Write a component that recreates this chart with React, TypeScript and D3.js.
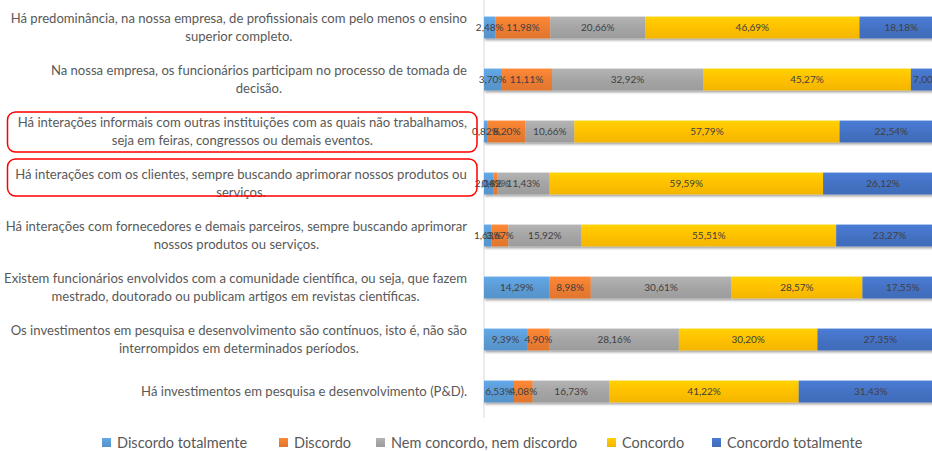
import React, { useMemo } from "react";
import * as d3 from "d3";

const categories = [
  "Há predominância, na nossa empresa, de profissionais com pelo menos o ensino\nsuperior completo.",
  "Na nossa empresa, os funcionários participam no processo de tomada de\ndecisão.",
  "Há interações informais com outras instituições com as quais não trabalhamos,\nseja em feiras, congressos ou demais eventos.",
  "Há interações com os clientes, sempre buscando aprimorar nossos produtos ou\nserviços.",
  "Há interações com fornecedores e demais parceiros, sempre buscando aprimorar\nnossos produtos ou serviços.",
  "Existem funcionários envolvidos com a comunidade científica, ou seja, que fazem\nmestrado, doutorado ou publicam artigos em revistas científicas.",
  "Os investimentos em pesquisa e desenvolvimento são contínuos, isto é, não são\ninterrompidos em determinados períodos.",
  "Há investimentos em pesquisa e desenvolvimento (P&D).",
];

const seriesNames = [
  "Discordo totalmente",
  "Discordo",
  "Nem concordo, nem discordo",
  "Concordo",
  "Concordo totalmente",
];

const discordoTotalmente = [2.48, 3.7, 0.82, 2.04, 1.63, 14.29, 9.39, 6.53];
const discordo = [11.98, 11.11, 8.2, 0.82, 3.67, 8.98, 4.9, 4.08];
const nemConcordo = [20.66, 32.92, 10.66, 11.43, 15.92, 30.61, 28.16, 16.73];
const concordo = [46.69, 45.27, 57.79, 59.59, 55.51, 28.57, 30.2, 41.22];
const concordoTotalmente = [18.18, 7.0, 22.54, 26.12, 23.27, 17.55, 27.35, 31.43];

const highlighted = [2, 3];

const colors = ["#5B9BD5", "#ED7D31", "#A5A5A5", "#FFC000", "#4472C4"];

const W = 932;
const H = 451;
const LABEL_SIZE = 13.1;
const LABEL_FONT = `${LABEL_SIZE}px Lato`;
const fontFamily = "Lato, 'Noto Sans', sans-serif";

function fmt(v: number) {
  return v.toFixed(2).replace(".", ",") + "%";
}

export default function App() {
  const seriesValues = [discordoTotalmente, discordo, nemConcordo, concordo, concordoTotalmente];
  const rows = categories.map((c, i) => {
    const r: any = { cat: c };
    seriesNames.forEach((s, j) => (r[s] = seriesValues[j][i]));
    return r;
  });
  const stack = d3.stack<any>().keys(seriesNames)(rows);

  const x = d3.scaleLinear().domain([0, 100]).range([484, 943]);
  const y = d3
    .scaleBand<string>()
    .domain(categories)
    .range([1.5, 417.5])
    .paddingInner(0.58)
    .paddingOuter(0.29);

  const measure = useMemo(() => {
    const c = document.createElement("canvas").getContext("2d")!;
    c.font = LABEL_FONT;
    return (s: string) => c.measureText(s).width;
  }, []);

  const labelRight = 467;

  return (
    <svg
      width={W}
      height={H}
      style={{ position: "absolute", left: 0, top: 0, display: "block", background: "#fff" }}
      fontFamily={fontFamily}
    >
      <defs>
        {colors.map((c, i) => (
          <linearGradient key={i} id={`g${i}`} x1="0" y1="0" x2="0" y2="1">
            <stop offset="0" stopColor={d3.color(c)!.brighter(0.25).formatHex()} />
            <stop offset="0.5" stopColor={c} />
            <stop offset="1" stopColor={d3.color(c)!.darker(0.15).formatHex()} />
          </linearGradient>
        ))}
        <filter id="shadow" x="-5%" y="-30%" width="110%" height="180%">
          <feDropShadow dx="1" dy="2" stdDeviation="1.2" floodColor="#000" floodOpacity="0.35" />
        </filter>
      </defs>

      <line x1={x(0)} x2={x(0)} y1={0} y2={418} stroke="#D9D9D9" strokeWidth={1} />

      {categories.map((c, i) => (
        <g key={i} filter="url(#shadow)">
          {stack.map((s, j) => (
            <rect
              key={j}
              x={x(s[i][0])}
              width={x(s[i][1]) - x(s[i][0])}
              y={y(c)!}
              height={y.bandwidth()}
              fill={`url(#g${j})`}
            />
          ))}
        </g>
      ))}

      {categories.map((c, i) =>
        stack.map((s, j) => (
          <text
            key={`${i}-${j}`}
            x={(x(s[i][0]) + x(s[i][1])) / 2}
            y={y(c)! + y.bandwidth() / 2}
            dy="0.35em"
            textAnchor="middle"
            fontSize={10}
            fill="#404040"
          >
            {fmt(s[i][1] - s[i][0])}
          </text>
        ))
      )}

      {categories.map((c, i) => {
        const lines = c.split("\n");
        const maxW = Math.max(...lines.map(measure));
        const cx = labelRight - maxW / 2;
        const cy = y(c)! + y.bandwidth() / 2;
        return (
          <text key={i} textAnchor="middle" fontSize={LABEL_SIZE} fill="#595959">
            {lines.map((l, k) => (
              <tspan key={k} x={cx} y={cy + (k - (lines.length - 1) / 2) * 18} dy="0.35em">
                {l}
              </tspan>
            ))}
          </text>
        );
      })}

      {highlighted.map((i) => {
        const cy = y(categories[i])! + y.bandwidth() / 2;
        return (
          <rect
            key={i}
            x={7.5}
            y={i === 3 ? cy - 24.5 : cy - 19.5}
            width={469.5}
            height={i === 3 ? 37 : 40}
            rx={8}
            fill="none"
            stroke="#FF0000"
            strokeWidth={1.5}
          />
        );
      })}

      <g>
        {seriesNames.map((s, j) => {
          const lx = [102, 279, 376, 607, 712][j];
          return (
            <g key={j}>
              <rect x={lx} y={438} width={9} height={9} fill={`url(#g${j})`} />
              <text x={lx + 15} y={442.5} dy="0.35em" fontSize={14.5} fill="#595959">
                {s}
              </text>
            </g>
          );
        })}
      </g>
    </svg>
  );
}
